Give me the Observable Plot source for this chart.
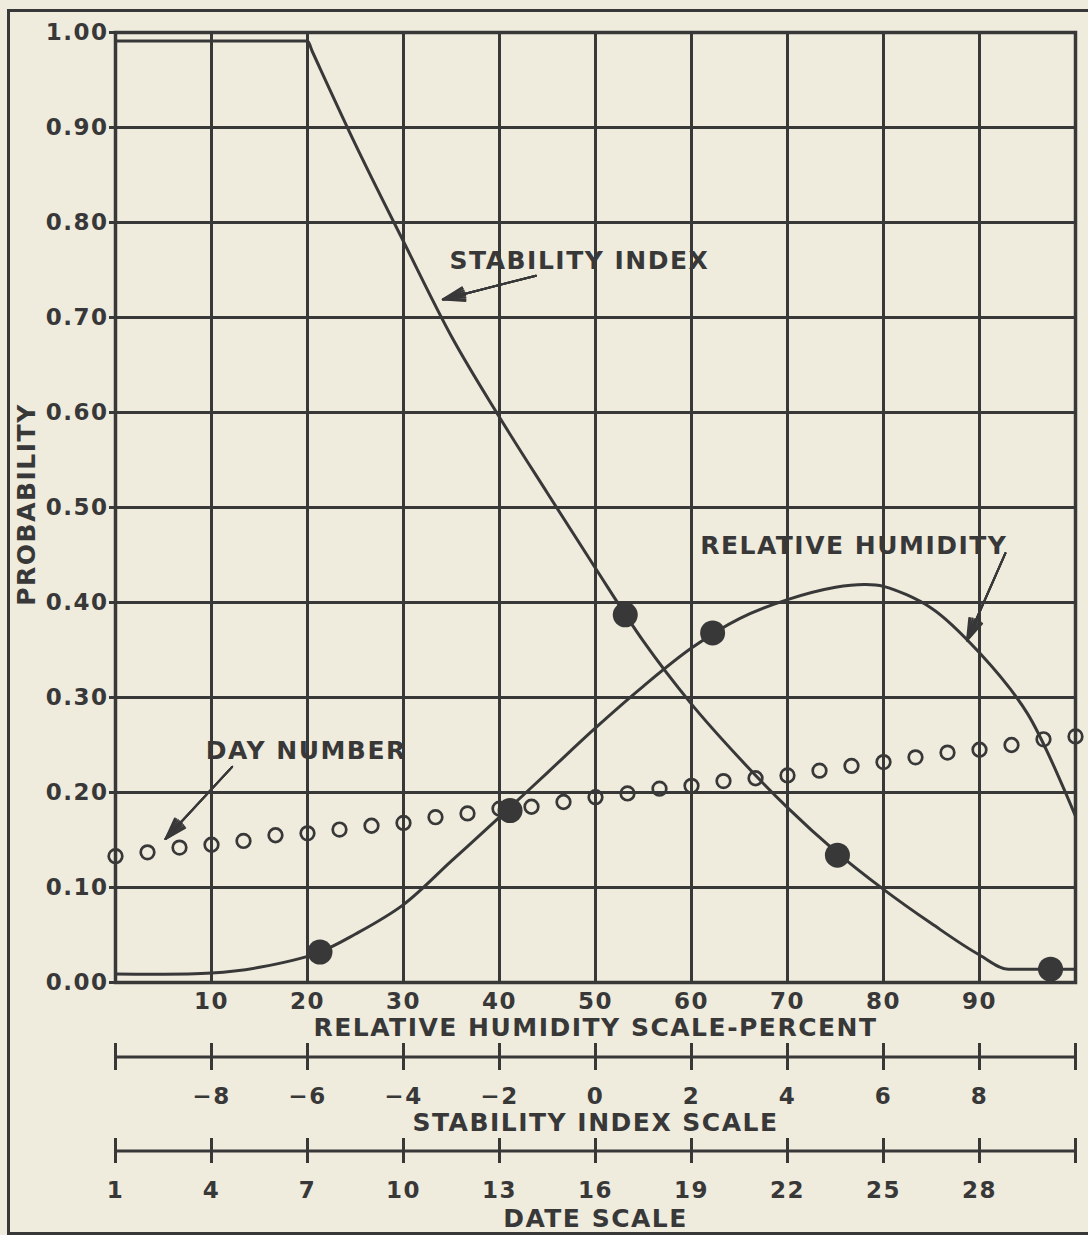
<!DOCTYPE html>
<html>
<head>
<meta charset="utf-8">
<script src="https://cdn.jsdelivr.net/npm/d3@7"></script>
<script src="https://cdn.jsdelivr.net/npm/@observablehq/plot@0.6"></script>
<style>
  html, body { margin: 0; padding: 0; background: #efebdd; }
  #page { position: relative; width: 1088px; height: 1235px; overflow: hidden; background: #efebdd; }
  #page svg { display: block; }
  #page svg text { letter-spacing: 1.5px; }
  .sheet-edge {
    position: absolute; left: 7px; top: 9px; right: -10px; bottom: 0;
    border-left: 3px solid #383838; border-top: 3px solid #383838; border-bottom: 3px solid #383838;
    pointer-events: none;
  }
</style>
</head>
<body>
<div id="page"><div class="sheet-edge"></div></div>
<script>
// Grid and scale ticks
const probabilityTicks = [0, 0.1, 0.2, 0.3, 0.4, 0.5, 0.6, 0.7, 0.8, 0.9, 1.0];
const humidityTicks = [0, 10, 20, 30, 40, 50, 60, 70, 80, 90, 100];
const humidityLabels = [10, 20, 30, 40, 50, 60, 70, 80, 90];
const stabilityTicks = [-10, -8, -6, -4, -2, 0, 2, 4, 6, 8, 10];
const stabilityLabels = [-8, -6, -4, -2, 0, 2, 4, 6, 8];
const dateTicks = [1, 4, 7, 10, 13, 16, 19, 22, 25, 28, 31];
const dateLabels = [1, 4, 7, 10, 13, 16, 19, 22, 25, 28];

// Probability vs stability index
const stabilityIndex = [-10, -6, -5.9, -5, -4, -3, -2, -1, 0, 1, 2, 3, 4, 5, 6, 7, 8, 8.6, 10];
const stabilityProb  = [0.991, 0.991, 0.980, 0.882, 0.780, 0.680, 0.595, 0.515, 0.436, 0.359, 0.293, 0.236, 0.184, 0.138, 0.098, 0.062, 0.029, 0.014, 0.014];
const stabilityMarkedIndex = [0.62, 5.04, 9.48];
const stabilityMarkedProb  = [0.387, 0.134, 0.014];

// Probability vs relative humidity (percent)
const humidity     = [0, 10, 15, 21, 25, 30, 35, 40, 45, 50, 55, 60, 65, 70, 75, 78, 80, 85, 90, 95, 100];
const humidityProb = [0.009, 0.010, 0.016, 0.031, 0.051, 0.082, 0.128, 0.174, 0.221, 0.268, 0.312, 0.352, 0.383, 0.403, 0.416, 0.419, 0.417, 0.394, 0.347, 0.283, 0.175];
const humidityMarked     = [21.3, 41.1, 62.2];
const humidityMarkedProb = [0.032, 0.181, 0.368];

// Probability by day of month (days 1..31)
const dayProb = [0.133, 0.137, 0.142, 0.145, 0.149, 0.155, 0.157, 0.161, 0.165, 0.168,
                 0.174, 0.178, 0.183, 0.185, 0.190, 0.195, 0.199, 0.204, 0.207, 0.212,
                 0.215, 0.218, 0.223, 0.228, 0.232, 0.237, 0.242, 0.245, 0.250, 0.256, 0.259];

// Curve labels and their pointers (in humidity-percent / probability units)
const labelNames = ["STABILITY INDEX", "RELATIVE HUMIDITY", "DAY NUMBER"];
const labelX = [34.8, 60.9, 9.4];
const labelY = [0.760, 0.459, 0.244];
const pointerFromX = [43.8, 92.7, 12.15];
const pointerFromY = [0.744, 0.452, 0.227];
const pointerToX   = [34.1, 88.7, 5.2];
const pointerToY   = [0.719, 0.360, 0.151];

// All three horizontal scales share one position: 0..100 % relative humidity,
// -10..10 stability index, day 1..31.
const siToPct = s => (s + 10) * 5;
const dayToPct = d => (d - 1) * 10 / 3;

const ink = "#383838";
const font = "'DejaVu Sans', 'Liberation Sans', sans-serif";
const baseStyle = {background: "transparent", color: ink, fontFamily: font};
const minus = v => (v < 0 ? "\u2212" + Math.abs(v) : String(v));

const stabilityRows = stabilityIndex.map((s, i) => ({s, p: stabilityProb[i]}));
const stabilityMarks = stabilityMarkedIndex.map((s, i) => ({s, p: stabilityMarkedProb[i]}));
const humidityRows = humidity.map((h, i) => ({h, p: humidityProb[i]}));
const humidityMarks = humidityMarked.map((h, i) => ({h, p: humidityMarkedProb[i]}));
const dayRows = dayProb.map((p, i) => ({day: i + 1, p}));
const labels = labelNames.map((name, i) => ({name, x: labelX[i], y: labelY[i]}));
const pointers = labelNames.map((name, i) => ({
  x1: pointerFromX[i], y1: pointerFromY[i], x2: pointerToX[i], y2: pointerToY[i]
}));

// Solid-looking arrowheads: several heads of different spread on top of each other
const pointerMarks = [8, 18, 28, 36].map(a =>
  Plot.arrow(pointers, {x1: "x1", y1: "y1", x2: "x2", y2: "y2",
    headLength: 17, headAngle: a, stroke: ink, strokeWidth: 2})
);

const tickText = {fontSize: 23, fontWeight: "bold", fill: ink, lineAnchor: "middle"};
const titleText = {fontSize: 25, fontWeight: "bold", fill: ink, lineAnchor: "middle"};

const main = Plot.plot({
  width: 1088, height: 1040,
  marginTop: 32, marginRight: 13, marginBottom: 58, marginLeft: 115,
  x: {domain: [0, 100], axis: null},
  y: {domain: [0, 1], axis: null},
  style: baseStyle,
  marks: [
    Plot.ruleX(humidityTicks, {stroke: ink, strokeWidth: 3}),
    Plot.ruleY(probabilityTicks, {stroke: ink, strokeWidth: 3, insetLeft: -6}),
    Plot.frame({stroke: ink, strokeWidth: 3.5}),
    Plot.text(probabilityTicks, {y: d => d, text: d => d.toFixed(2), frameAnchor: "left",
      textAnchor: "end", dx: -7, ...tickText}),
    Plot.text(humidityLabels, {x: d => d, text: d => String(d), frameAnchor: "bottom",
      dy: 19, ...tickText}),
    Plot.text(["RELATIVE HUMIDITY SCALE-PERCENT"], {frameAnchor: "bottom", dy: 45, ...titleText}),
    Plot.text(["PROBABILITY"], {frameAnchor: "left", dx: -89, rotate: -90,
      textAnchor: "middle", dy: -3, ...titleText, fontSize: 25}),
    Plot.line(stabilityRows, {x: d => siToPct(d.s), y: "p", curve: "monotone-x",
      stroke: ink, strokeWidth: 3}),
    Plot.line(humidityRows, {x: "h", y: "p", curve: "catmull-rom", stroke: ink, strokeWidth: 3}),
    Plot.dot(dayRows, {x: d => dayToPct(d.day), y: "p", r: 6.8, fill: "none",
      stroke: ink, strokeWidth: 2.7}),
    Plot.dot(stabilityMarks, {x: d => siToPct(d.s), y: "p", r: 12.5, fill: ink, stroke: "none"}),
    Plot.dot(humidityMarks, {x: "h", y: "p", r: 12.5, fill: ink, stroke: "none"}),
    ...pointerMarks,
    Plot.text(labels, {x: "x", y: "y", text: "name", textAnchor: "start", ...titleText})
  ]
});

const stabilityScale = Plot.plot({
  width: 1088, height: 97,
  marginTop: 3, marginRight: 13, marginBottom: 67, marginLeft: 115,
  x: {domain: [-10, 10], axis: null},
  y: {domain: [-1, 1], axis: null},
  style: baseStyle,
  marks: [
    Plot.ruleY([0], {stroke: ink, strokeWidth: 3}),
    Plot.ruleX(stabilityTicks, {stroke: ink, strokeWidth: 3}),
    Plot.text(stabilityLabels, {x: d => d, text: minus, frameAnchor: "bottom", dy: 26, ...tickText}),
    Plot.text(["STABILITY INDEX SCALE"], {frameAnchor: "bottom", dy: 52, ...titleText})
  ]
});

const dateScale = Plot.plot({
  width: 1088, height: 98,
  marginTop: 1, marginRight: 13, marginBottom: 72, marginLeft: 115,
  x: {domain: [1, 31], axis: null},
  y: {domain: [-1, 1], axis: null},
  style: baseStyle,
  marks: [
    Plot.ruleY([0], {stroke: ink, strokeWidth: 3}),
    Plot.ruleX(dateTicks, {stroke: ink, strokeWidth: 3}),
    Plot.text(dateLabels, {x: d => d, text: d => String(d), frameAnchor: "bottom", dy: 27, ...tickText}),
    Plot.text(["DATE SCALE"], {frameAnchor: "bottom", dy: 55, ...titleText})
  ]
});

const page = document.getElementById("page");
page.insertBefore(dateScale, page.firstChild);
page.insertBefore(stabilityScale, dateScale);
page.insertBefore(main, stabilityScale);
</script>
</body>
</html>
